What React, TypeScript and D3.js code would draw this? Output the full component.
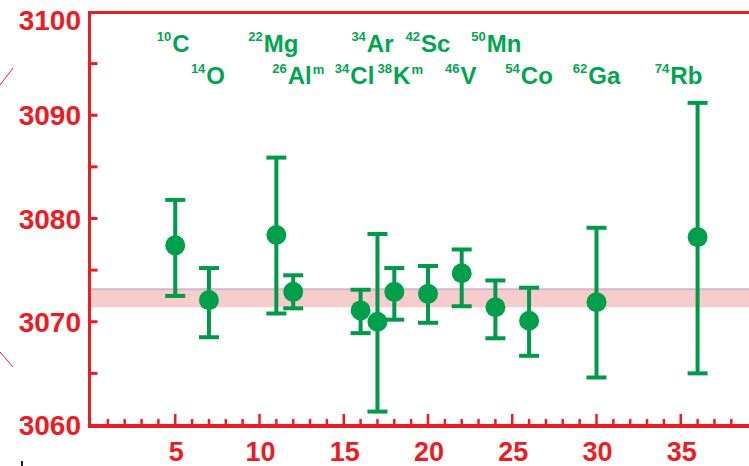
import { useEffect, useRef } from "react";
import * as d3 from "d3";

// Ft values by daughter Z
const massNumber = ["10", "14", "22", "26", "34", "34", "38", "42", "46", "50", "54", "62", "74"];
const element = ["C", "O", "Mg", "Al", "Cl", "Ar", "K", "Sc", "V", "Mn", "Co", "Ga", "Rb"];
const isomer = [false, false, false, true, false, false, true, false, false, false, false, false, false];
const labelRow = [0, 1, 0, 1, 1, 0, 1, 0, 1, 0, 1, 1, 1];
const daughterZ = [5, 7, 11, 12, 16, 17, 18, 20, 22, 24, 26, 30, 36];
const ftValue = [3077.4, 3072.1, 3078.4, 3072.9, 3071.1, 3070.0, 3072.9, 3072.7, 3074.7, 3071.4, 3070.1, 3071.9, 3078.2];
const errUp = [4.4, 3.1, 7.5, 1.6, 2.0, 8.5, 2.3, 2.7, 2.3, 2.6, 3.2, 7.2, 13.0];
const errDown = [4.9, 3.6, 7.6, 1.6, 2.2, 8.7, 2.7, 2.8, 3.2, 3.0, 3.4, 7.3, 13.2];
const avgBand = [3071.4, 3073.2];
const yTicks = [3060, 3070, 3080, 3090, 3100];
const xTicks = [5, 10, 15, 20, 25, 30, 35];

const RED = "#ec1c24";
const GREEN = "#009a48";
const FONT = "'Liberation Sans', Arial, Helvetica, sans-serif";

export default function App() {
  const ref = useRef<SVGSVGElement>(null);
  const width = 749;
  const height = 466;

  useEffect(() => {
    if (!ref.current) return;
    const svg = d3.select(ref.current);
    svg.selectAll("*").remove();

    const x0 = 91;
    const xScale = d3.scaleLinear().domain([0, 40]).range([x0, x0 + 40 * 16.85]);
    const yScale = d3.scaleLinear().domain([3060, 3100]).range([425, 12]);
    const axisX = 89.5;

    // average band
    svg
      .append("rect")
      .attr("x", axisX + 1.5)
      .attr("y", yScale(avgBand[1]))
      .attr("width", width - axisX)
      .attr("height", yScale(avgBand[0]) - yScale(avgBand[1]))
      .attr("fill", "#f6cccc");
    svg
      .append("line")
      .attr("x1", axisX + 1.5)
      .attr("x2", width)
      .attr("y1", yScale(avgBand[1]) + 0.5)
      .attr("y2", yScale(avgBand[1]) + 0.5)
      .attr("stroke", "#d2b8cf")
      .attr("stroke-width", 2);

    // frame
    svg.append("line").attr("x1", axisX).attr("x2", axisX).attr("y1", 11).attr("y2", 427)
      .attr("stroke", RED).attr("stroke-width", 3);
    svg.append("line").attr("x1", axisX - 1.5).attr("x2", width).attr("y1", 12.5).attr("y2", 12.5)
      .attr("stroke", RED).attr("stroke-width", 3);
    svg.append("line").attr("x1", axisX - 1.5).attr("x2", width).attr("y1", 426).attr("y2", 426)
      .attr("stroke", RED).attr("stroke-width", 4);

    // y ticks every 5, labels every 10
    d3.range(3065, 3100, 5).forEach((v) => {
      svg.append("line").attr("x1", axisX).attr("x2", axisX + 8)
        .attr("y1", yScale(v)).attr("y2", yScale(v))
        .attr("stroke", RED).attr("stroke-width", 3);
    });
    svg
      .selectAll("text.ylab")
      .data(yTicks)
      .join("text")
      .attr("class", "ylab")
      .attr("x", 81)
      .attr("y", (d) => Math.max(yScale(d) + 10, 30))
      .attr("text-anchor", "end")
      .attr("font-family", FONT)
      .attr("font-weight", "bold")
      .attr("font-size", 28)
      .attr("fill", RED)
      .text((d) => d);

    // x ticks at every integer, longer at 5s
    d3.range(1, 39).forEach((v) => {
      const major = v % 5 === 0;
      svg.append("line")
        .attr("x1", xScale(v)).attr("x2", xScale(v))
        .attr("y1", 425).attr("y2", major ? 414 : 419)
        .attr("stroke", RED).attr("stroke-width", 2.5);
    });
    svg
      .selectAll("text.xlab")
      .data(xTicks)
      .join("text")
      .attr("class", "xlab")
      .attr("x", (d) => xScale(d) + 1)
      .attr("y", 461)
      .attr("text-anchor", "middle")
      .attr("font-family", FONT)
      .attr("font-weight", "bold")
      .attr("font-size", 27)
      .attr("fill", RED)
      .text((d) => d);

    // stray marks at the left edge
    svg.append("line").attr("x1", 0).attr("y1", 85).attr("x2", 13).attr("y2", 68)
      .attr("stroke", RED).attr("stroke-width", 1);
    svg.append("line").attr("x1", 0).attr("y1", 352).attr("x2", 13).attr("y2", 367)
      .attr("stroke", RED).attr("stroke-width", 1);
    svg.append("rect").attr("x", 21).attr("y", 461).attr("width", 2).attr("height", 5).attr("fill", "#222");

    // error bars + points
    const cap = 10;
    daughterZ.forEach((z, i) => {
      const cx = xScale(z);
      const top = yScale(ftValue[i] + errUp[i]);
      const bot = yScale(ftValue[i] - errDown[i]);
      const g = svg.append("g").attr("stroke", GREEN).attr("stroke-width", 4);
      g.append("line").attr("x1", cx).attr("x2", cx).attr("y1", top).attr("y2", bot);
      g.append("line").attr("x1", cx - cap).attr("x2", cx + cap).attr("y1", top).attr("y2", top);
      g.append("line").attr("x1", cx - cap).attr("x2", cx + cap).attr("y1", bot).attr("y2", bot);
    });
    svg
      .selectAll("circle.pt")
      .data(daughterZ)
      .join("circle")
      .attr("class", "pt")
      .attr("cx", (d) => xScale(d))
      .attr("cy", (_, i) => yScale(ftValue[i]))
      .attr("r", 10)
      .attr("fill", "#00a04b");

    // isotope labels
    const nudge: Record<string, number> = {
      C: -2, O: -1, Mg: -3, Al: 5, Cl: -6, Ar: -5, K: 6, Sc: 0, V: -1, Mn: 1, Co: 0, Ga: 0, Rb: -19,
    };
    element.forEach((el, i) => {
      const baseY = labelRow[i] === 0 ? 52 : 84;
      const t = svg
        .append("text")
        .attr("x", xScale(daughterZ[i]) + nudge[el])
        .attr("y", baseY)
        .attr("text-anchor", "middle")
        .attr("font-family", FONT)
        .attr("font-weight", "bold")
        .attr("fill", "#00a550");
      t.append("tspan").attr("font-size", 13).attr("dy", -11).text(massNumber[i]);
      t.append("tspan").attr("font-size", 24).attr("dy", 11).attr("dx", 1).text(el);
      if (isomer[i]) {
        t.append("tspan").attr("font-size", 13).attr("dy", -10).attr("dx", 1).text("m");
      }
    });
  }, []);

  return (
    <svg
      ref={ref}
      width={width}
      height={height}
      style={{ position: "absolute", left: 0, top: 0, background: "#fff" }}
    />
  );
}
